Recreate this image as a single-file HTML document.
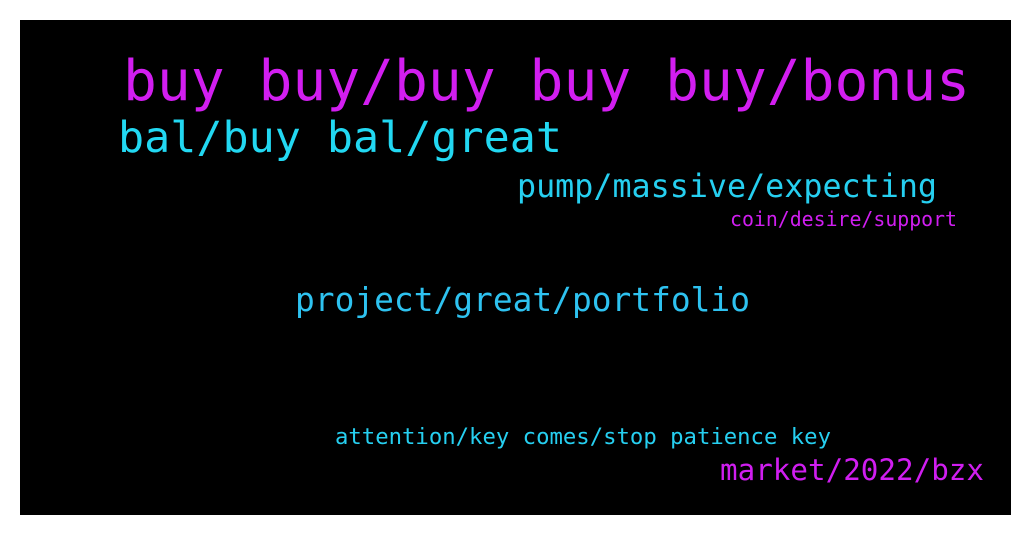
<!DOCTYPE html>
<html><head><meta charset="utf-8"><style>
html,body{margin:0;padding:0;background:#fff;width:1031px;height:536px;overflow:hidden}
svg{display:block}
text{font-family:"DejaVu Sans Mono","Liberation Mono",monospace}
</style></head><body>
<svg width="1031" height="536" xmlns="http://www.w3.org/2000/svg">
<rect x="20" y="20" width="991" height="495" fill="#000"/>
<text x="123" y="100" font-size="56" fill="#d21ef0" textLength="847" lengthAdjust="spacingAndGlyphs">buy buy/buy buy buy/bonus</text>
<text x="118" y="152" font-size="43" fill="#22d8f2" textLength="444" lengthAdjust="spacingAndGlyphs">bal/buy bal/great</text>
<text x="517" y="197" font-size="32" fill="#26cff0" textLength="420" lengthAdjust="spacingAndGlyphs">pump/massive/expecting</text>
<text x="730" y="226" font-size="20" fill="#d01ef0" textLength="227" lengthAdjust="spacingAndGlyphs">coin/desire/support</text>
<text x="295" y="311" font-size="33" fill="#2ec2f0" textLength="455" lengthAdjust="spacingAndGlyphs">project/great/portfolio</text>
<text x="335" y="444" font-size="22" fill="#26cff0" textLength="496" lengthAdjust="spacingAndGlyphs">attention/key comes/stop patience key</text>
<text x="720" y="480" font-size="29" fill="#d01ef0" textLength="264" lengthAdjust="spacingAndGlyphs">market/2022/bzx</text>
</svg>
</body></html>
